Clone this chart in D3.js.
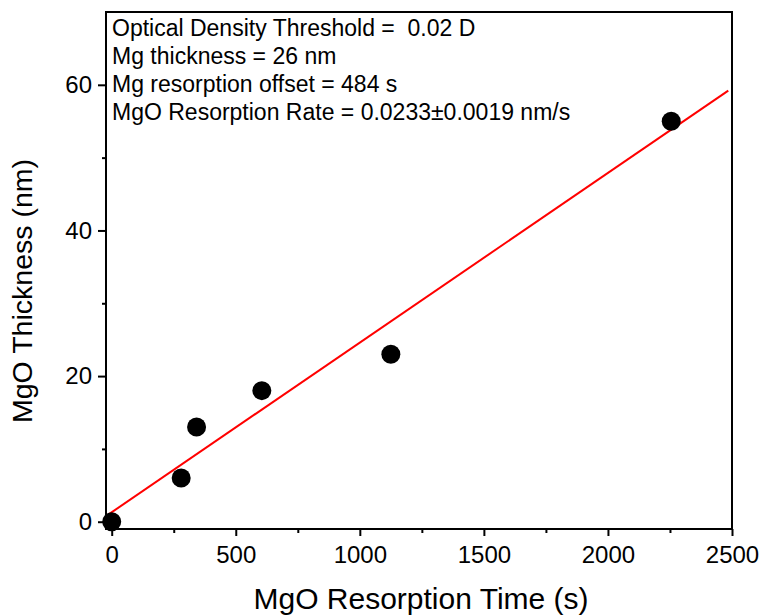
<!DOCTYPE html>
<html>
<head>
<meta charset="utf-8">
<script src="https://cdn.jsdelivr.net/npm/d3@7"></script>
<style>
  html, body { margin: 0; padding: 0; background: #fff; }
  svg { display: block; font-family: "Liberation Sans", Arial, sans-serif; }
</style>
</head>
<body>
<svg id="chart" width="763" height="616"></svg>
<script>
// Data
const timeS = [0, 280, 342, 605, 1125, 2255];
const thicknessNm = [0, 6, 13, 18, 23, 55];

// Linear fit shown as red line
const fitIntercept = 1.3;
const fitSlope = 0.0233;
const fitRange = [-23, 2485];

const xMajorTicks = [0, 500, 1000, 1500, 2000, 2500];
const xMinorTicks = [250, 750, 1250, 1750, 2250];
const yMajorTicks = [0, 20, 40, 60];
const yMinorTicks = [10, 30, 50];

const notes = [
    "Optical Density Threshold =  0.02 D",
    "Mg thickness = 26 nm",
    "Mg resorption offset = 484 s",
    "MgO Resorption Rate = 0.0233\u00b10.0019 nm/s"
];

const svg = d3.select('#chart');
const plot = { left: 106, right: 732, top: 12, bottom: 529 };

const x = d3.scaleLinear().domain([-23, 2500]).range([plot.left, plot.right]);
const y = d3.scaleLinear().domain([-1, 70]).range([plot.bottom, plot.top]);

// Fit line
svg.append('line')
    .attr('x1', x(fitRange[0]))
    .attr('y1', y(fitIntercept + fitSlope * fitRange[0]))
    .attr('x2', x(fitRange[1]))
    .attr('y2', y(fitIntercept + fitSlope * fitRange[1]))
    .attr('stroke', '#ff0000')
    .attr('stroke-width', 2);

// Points
svg.selectAll('.pt')
    .data(timeS)
    .enter()
    .append('circle')
    .attr('class', 'pt')
    .attr('cx', d => x(d))
    .attr('cy', (d, i) => y(thicknessNm[i]))
    .attr('r', 9.5)
    .attr('fill', '#000');

// Frame
svg.append('rect')
    .attr('x', plot.left)
    .attr('y', plot.top)
    .attr('width', plot.right - plot.left)
    .attr('height', plot.bottom - plot.top)
    .attr('fill', 'none')
    .attr('stroke', '#000')
    .attr('stroke-width', 2);

// X axis
const xAxis = svg.append('g')
    .attr('transform', `translate(0,${plot.bottom})`)
    .call(d3.axisBottom(x).tickValues(xMajorTicks).tickSize(7).tickSizeOuter(0).tickFormat(d3.format('d')));
xAxis.selectAll('text').attr('y', 34).attr('dy', 0);

svg.append('g')
    .attr('transform', `translate(0,${plot.bottom})`)
    .call(d3.axisBottom(x).tickValues(xMinorTicks).tickSize(4).tickSizeOuter(0).tickFormat(''));

// Y axis
svg.append('g')
    .attr('transform', `translate(${plot.left},0)`)
    .call(d3.axisLeft(y).tickValues(yMajorTicks).tickSize(8).tickPadding(6).tickSizeOuter(0).tickFormat(d3.format('d')));

svg.append('g')
    .attr('transform', `translate(${plot.left},0)`)
    .call(d3.axisLeft(y).tickValues(yMinorTicks).tickSize(4).tickSizeOuter(0).tickFormat(''));

svg.selectAll('.domain').remove();
svg.selectAll('.tick line').attr('stroke', '#000').attr('stroke-width', 2);
svg.selectAll('.tick text')
    .attr('fill', '#000')
    .style('font-family', '"Liberation Sans", Arial, sans-serif')
    .style('font-size', '24px');

// Axis titles
svg.append('text')
    .attr('x', 421)
    .attr('y', 609)
    .attr('text-anchor', 'middle')
    .style('font-size', '30px')
    .text('MgO Resorption Time (s)');

svg.append('text')
    .attr('transform', 'translate(32,291) rotate(-90)')
    .attr('text-anchor', 'middle')
    .style('font-size', '28.5px')
    .text('MgO Thickness (nm)');

// Annotation block
svg.selectAll('.note')
    .data(notes)
    .enter()
    .append('text')
    .attr('class', 'note')
    .attr('x', 112)
    .attr('y', (d, i) => 36 + i * 28)
    .attr('xml:space', 'preserve')
    .style('white-space', 'pre')
    .style('font-size', '23px')
    .text(d => d);
</script>
</body>
</html>
